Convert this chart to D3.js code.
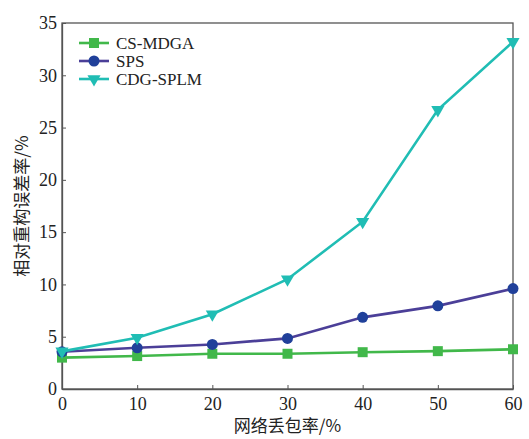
<!DOCTYPE html>
<html>
<head>
<meta charset="utf-8">
<script src="https://cdn.jsdelivr.net/npm/d3@7"></script>
<style>
  body { margin: 0; background: #fff; }
  text { font-family: "Liberation Serif", "DejaVu Serif", serif; }
</style>
</head>
<body>
<script>
// data
const lossRates = [0, 10, 20, 30, 40, 50, 60];
const csMdga = [3.0, 3.15, 3.37, 3.37, 3.52, 3.62, 3.8];
const sps = [3.56, 3.94, 4.26, 4.84, 6.85, 7.95, 9.6];
const cdgSplm = [3.6, 4.9, 7.15, 10.5, 16.0, 26.7, 33.2];
const xTicks = [0, 10, 20, 30, 40, 50, 60];
const yTicks = [0, 5, 10, 15, 20, 25, 30, 35];

const series = [
  { name: "CS-MDGA", values: csMdga, line: "#41b84a", fill: "#41b84a", marker: "square" },
  { name: "SPS", values: sps, line: "#4b3f98", fill: "#20409a", marker: "circle" },
  { name: "CDG-SPLM", values: cdgSplm, line: "#20bdb4", fill: "#20bdb4", marker: "triangle" }
];

const width = 529, height = 439;
const margin = { top: 23, right: 16, bottom: 50, left: 62 };

const svg = d3.select("body").append("svg")
  .attr("width", width)
  .attr("height", height);

const x = d3.scaleLinear().domain([0, 60]).range([margin.left, width - margin.right]);
const y = d3.scaleLinear().domain([0, 35]).range([height - margin.bottom, margin.top]);

// axes (ticks point inward)
svg.append("g")
  .attr("transform", `translate(0,${y(0)})`)
  .call(d3.axisBottom(x).tickValues(xTicks).tickSizeInner(-4).tickSizeOuter(0).tickPadding(8))
  .call(g => g.selectAll("text").attr("font-size", 18).attr("fill", "#222"));

svg.append("g")
  .attr("transform", `translate(${x(0)},0)`)
  .call(d3.axisLeft(y).tickValues(yTicks).tickSizeInner(-4).tickSizeOuter(0).tickPadding(5))
  .call(g => g.selectAll("text").attr("font-size", 18).attr("fill", "#222"));

svg.selectAll(".domain").attr("stroke", "#555").attr("stroke-width", 1.3);
svg.selectAll(".tick line").attr("stroke", "#555");

// frame
svg.append("rect")
  .attr("x", x(0)).attr("y", y(35))
  .attr("width", x(60) - x(0)).attr("height", y(0) - y(35))
  .attr("fill", "none").attr("stroke", "#555").attr("stroke-width", 1.3);

const symbols = {
  square: d3.symbol().type(d3.symbolSquare).size(100),
  circle: d3.symbol().type(d3.symbolCircle).size(95),
  triangle: d3.symbol().type(d3.symbolTriangle).size(75)
};
const rot = s => s.marker === "triangle" ? " rotate(180)" : "";

const line = d3.line().x((d, i) => x(lossRates[i])).y(d => y(d));

series.forEach(s => {
  svg.append("path")
    .datum(s.values)
    .attr("d", line)
    .attr("fill", "none")
    .attr("stroke", s.line)
    .attr("stroke-width", 2.6);

  svg.append("g").selectAll("path")
    .data(s.values)
    .join("path")
    .attr("d", symbols[s.marker]())
    .attr("transform", (d, i) => `translate(${x(lossRates[i])},${y(d)})${rot(s)}`)
    .attr("fill", s.fill);
});

// legend
const legend = svg.append("g");
series.forEach((s, i) => {
  const ly = 43 + i * 18;
  legend.append("line")
    .attr("x1", 79).attr("x2", 109).attr("y1", ly).attr("y2", ly)
    .attr("stroke", s.line).attr("stroke-width", 2.6);
  legend.append("path")
    .attr("d", symbols[s.marker]())
    .attr("transform", `translate(94,${ly})${rot(s)}`)
    .attr("fill", s.fill);
  legend.append("text")
    .attr("x", 116).attr("y", ly + 6)
    .attr("font-size", 17)
    .attr("fill", "#222")
    .text(s.name);
});

// axis titles
svg.append("text")
  .attr("x", (x(0) + x(60)) / 2)
  .attr("y", 432)
  .attr("text-anchor", "middle")
  .attr("font-size", 17)
  .attr("fill", "#222")
  .style("font-family", "'Noto Sans CJK SC', sans-serif")
  .text("网络丢包率/%");

svg.append("text")
  .attr("transform", `translate(28,${(y(0) + y(35)) / 2}) rotate(-90)`)
  .attr("text-anchor", "middle")
  .attr("font-size", 17)
  .attr("fill", "#222")
  .style("font-family", "'Noto Sans CJK SC', sans-serif")
  .text("相对重构误差率/%");
</script>
</body>
</html>
